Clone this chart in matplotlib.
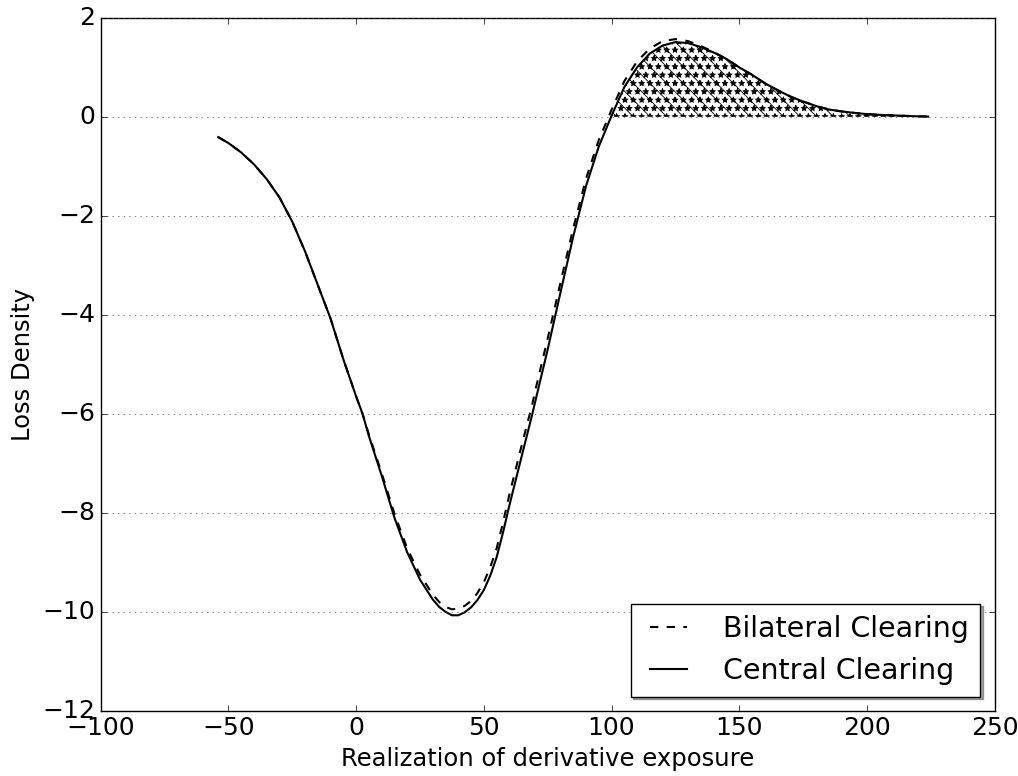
import matplotlib
matplotlib.use("Agg")
import matplotlib.pyplot as plt
import numpy as np

plt.style.use('classic')
plt.rcParams['hatch.linewidth'] = 0.6

exposure = [-54, -50, -45, -40, -35, -30, -25, -20, -15, -10, -5, 0, 2.5, 5, 10, 15,
            20, 25, 30, 32.5, 35, 37.5, 40, 42.5, 45, 47.5, 50, 52.5, 55, 57.5, 60,
            65, 69, 70, 75, 80, 85, 90, 95, 100, 105, 110, 115, 120, 125, 130, 135,
            140, 145, 150, 155, 160, 165, 170, 175, 180, 185, 190, 195, 200, 205,
            210, 215, 220, 224]

central = [-0.41, -0.53, -0.72, -0.96, -1.26, -1.63, -2.12, -2.72, -3.4, -4.08, -4.9,
           -5.65, -6.0, -6.45, -7.25, -8.1, -8.8, -9.35, -9.75, -9.9, -10.0, -10.07,
           -10.07, -10.01, -9.91, -9.76, -9.56, -9.27, -8.9, -8.4, -7.85,
           -6.82, -6.0, -5.78, -4.7, -3.55, -2.42, -1.4, -0.6, 0.02, 0.6, 1.0, 1.28,
           1.44, 1.51, 1.49, 1.41, 1.3, 1.17, 1.0, 0.85, 0.68, 0.54, 0.41, 0.31,
           0.22, 0.15, 0.11, 0.08, 0.055, 0.04, 0.03, 0.02, 0.01, 0.005]

bilateral = [-0.41, -0.53, -0.72, -0.96, -1.26, -1.63, -2.12, -2.72, -3.4, -4.08, -4.9,
             -5.65, -6.0, -6.42, -7.2, -8.02, -8.72, -9.25, -9.65, -9.8, -9.9, -9.95,
             -9.93, -9.88, -9.78, -9.62, -9.4, -9.1, -8.72, -8.2, -7.63,
             -6.6, -5.8, -5.56, -4.48, -3.35, -2.25, -1.25, -0.47, 0.14, 0.72, 1.12,
             1.38, 1.53, 1.57, 1.53, 1.43, 1.31, 1.17, 1.0, 0.85, 0.68, 0.54, 0.41,
             0.31, 0.22, 0.15, 0.11, 0.08, 0.055, 0.04, 0.03, 0.02, 0.01, 0.005]

x = np.array(exposure)
yc = np.array(central)
yb = np.array(bilateral)

fig = plt.figure(figsize=(10.18, 7.76), dpi=100)
fig.subplots_adjust(left=0.099, right=0.977, top=0.977, bottom=0.084)
ax = fig.add_subplot(111)

ax.plot(x, yb, 'k--', lw=1.5, label='Bilateral Clearing')
ax.plot(x, yc, 'k-', lw=1.5, label='Central Clearing')
mask = x >= 100
ax.fill_between(x[mask], 0, yc[mask], facecolor='none', edgecolor='black',
                hatch='**\\\\', linewidth=0)

ax.set_xlim(-100, 250)
ax.set_ylim(-12, 2)
ax.yaxis.grid(True, linestyle=':', color='0.3')
ax.set_xlabel('Realization of derivative exposure', fontsize=17.5)
ax.set_ylabel('Loss Density', fontsize=17.5)
ax.tick_params(labelsize=18)
leg = ax.legend(loc='lower right', shadow=True, fontsize=20.5, fancybox=False,
                handlelength=1.9, handletextpad=0.95)

fig.savefig('out.png', dpi=100)
